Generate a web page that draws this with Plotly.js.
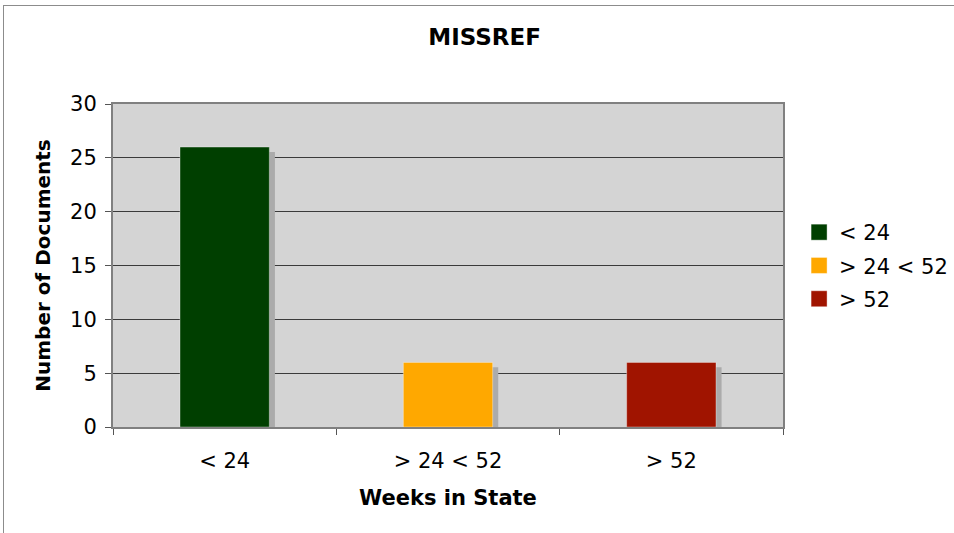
<!DOCTYPE html>
<html>
<head>
<meta charset="utf-8">
<script src="https://cdn.plot.ly/plotly-3.0.1.min.js"></script>
<style>
  html, body { margin: 0; padding: 0; background: #fff; overflow: hidden; }
  #frame { position: absolute; left: 3px; top: 5px; width: 1000px; height: 600px; border: 1px solid #8c8c8c; box-sizing: border-box; }
  #chart { position: absolute; left: 0; top: 0; width: 954px; height: 533px; }
</style>
</head>
<body>
<div id="frame"></div>
<div id="chart"></div>
<script>
const categories = ["< 24", "> 24 < 52", "> 52"];
const values = [26, 6, 6];
const colors = ["#003f00", "#ffa800", "#a01400"];
const chartTitle = "MISSREF";
const xTitle = "Weeks in State";
const yTitle = "Number of Documents";

const FONT = "DejaVu Sans, Verdana, sans-serif";
const barWidth = 0.4;
const traces = [];
// shadow traces
categories.forEach((c, i) => {
  traces.push({
    type: "bar", x: [c], y: [values[i] - 0.45], width: [barWidth],
    offset: -barWidth / 2 + 0.025,
    marker: { color: "#ababab", line: { width: 0 } },
    showlegend: false, hoverinfo: "skip"
  });
});
categories.forEach((c, i) => {
  traces.push({
    type: "bar", x: [c], y: [values[i]], width: [barWidth],
    offset: -barWidth / 2,
    name: c, showlegend: false,
    marker: { color: colors[i], line: { width: 1, color: "rgba(255,255,255,0.35)" } }
  });
});
// legend entries (square swatches)
categories.forEach((c, i) => {
  traces.push({
    type: "scatter", mode: "markers", x: [c], y: [null],
    name: c, legendgroup: "g" + i, showlegend: true, hoverinfo: "skip",
    marker: { symbol: "square", size: 16, color: colors[i], line: { width: 1, color: "rgba(255,255,255,0.4)" } }
  });
});

const layout = {
  width: 954, height: 533,
  margin: { l: 113, r: 171, t: 104, b: 106, autoexpand: false },
  paper_bgcolor: "rgba(0,0,0,0)",
  plot_bgcolor: "#d4d4d4",
  barmode: "overlay",
  font: { family: FONT, color: "#000", size: 21 },
  title: { text: "<b>" + chartTitle + "</b>", x: 0.508, xref: "container", y: 0.93, yref: "container", yanchor: "middle", font: { size: 23, family: FONT } },
  xaxis: {
    type: "category", categoryorder: "array", categoryarray: categories,
    tickson: "boundaries", ticks: "outside", ticklen: 6, tickcolor: "#555", tickwidth: 1,
    showline: true, linecolor: "#808080", linewidth: 2, mirror: true,
    showgrid: false, ticklabelstandoff: 14,
    tickfont: { size: 21 },
    title: { text: "<b>" + xTitle + "</b>", font: { size: 21 }, standoff: 18 }
  },
  yaxis: {
    range: [0, 30], tickvals: [0, 5, 10, 15, 20, 25, 30],
    ticks: "outside", ticklen: 6, tickcolor: "#555", tickwidth: 1,
    showline: true, linecolor: "#808080", linewidth: 2, mirror: true,
    showgrid: true, gridcolor: "#3a3a3a", gridwidth: 1,
    zeroline: false, ticklabelstandoff: 4,
    tickfont: { size: 21 },
    title: { text: "<b>" + yTitle + "</b>", font: { size: 20 }, standoff: 14 }
  },
  legend: {
    x: 1.024, xanchor: "left", y: 0.5, yanchor: "middle",
    font: { size: 21 }, tracegroupgap: 3, bgcolor: "rgba(0,0,0,0)",
    itemclick: false, itemwidth: 30
  },
  showlegend: true
};

Plotly.newPlot("chart", traces, layout, { staticPlot: true });
</script>
</body>
</html>
